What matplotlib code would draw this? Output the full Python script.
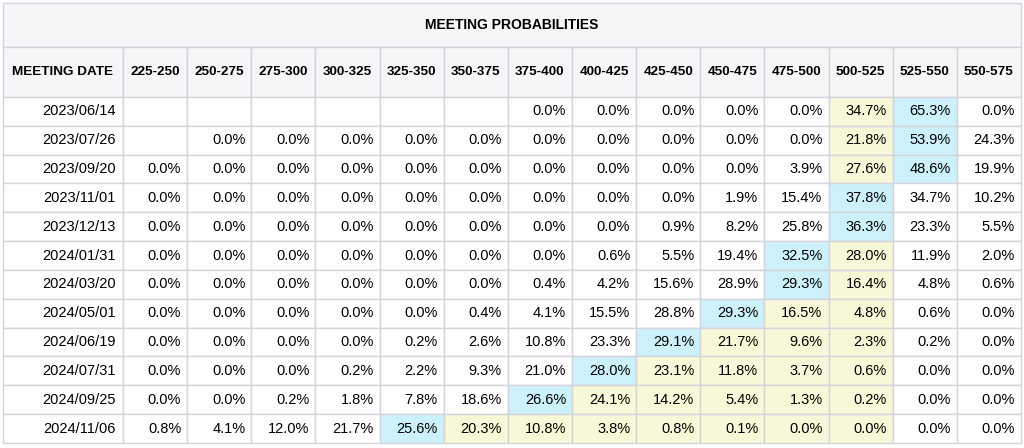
import matplotlib
matplotlib.use('Agg')
import matplotlib.pyplot as plt
from matplotlib.patches import Rectangle

plt.rcParams['font.family'] = ['Liberation Sans', 'DejaVu Sans']

title = 'MEETING PROBABILITIES'
ranges = ['225-250', '250-275', '275-300', '300-325', '325-350', '350-375', '375-400',
          '400-425', '425-450', '450-475', '475-500', '500-525', '525-550', '550-575']
dates = ['2023/06/14', '2023/07/26', '2023/09/20', '2023/11/01', '2023/12/13', '2024/01/31',
         '2024/03/20', '2024/05/01', '2024/06/19', '2024/07/31', '2024/09/25', '2024/11/06']
N = None
probs = [
    [N, N, N, N, N, N, 0.0, 0.0, 0.0, 0.0, 0.0, 34.7, 65.3, 0.0],
    [N, 0.0, 0.0, 0.0, 0.0, 0.0, 0.0, 0.0, 0.0, 0.0, 0.0, 21.8, 53.9, 24.3],
    [0.0, 0.0, 0.0, 0.0, 0.0, 0.0, 0.0, 0.0, 0.0, 0.0, 3.9, 27.6, 48.6, 19.9],
    [0.0, 0.0, 0.0, 0.0, 0.0, 0.0, 0.0, 0.0, 0.0, 1.9, 15.4, 37.8, 34.7, 10.2],
    [0.0, 0.0, 0.0, 0.0, 0.0, 0.0, 0.0, 0.0, 0.9, 8.2, 25.8, 36.3, 23.3, 5.5],
    [0.0, 0.0, 0.0, 0.0, 0.0, 0.0, 0.0, 0.6, 5.5, 19.4, 32.5, 28.0, 11.9, 2.0],
    [0.0, 0.0, 0.0, 0.0, 0.0, 0.0, 0.4, 4.2, 15.6, 28.9, 29.3, 16.4, 4.8, 0.6],
    [0.0, 0.0, 0.0, 0.0, 0.0, 0.4, 4.1, 15.5, 28.8, 29.3, 16.5, 4.8, 0.6, 0.0],
    [0.0, 0.0, 0.0, 0.0, 0.2, 2.6, 10.8, 23.3, 29.1, 21.7, 9.6, 2.3, 0.2, 0.0],
    [0.0, 0.0, 0.0, 0.2, 2.2, 9.3, 21.0, 28.0, 23.1, 11.8, 3.7, 0.6, 0.0, 0.0],
    [0.0, 0.0, 0.2, 1.8, 7.8, 18.6, 26.6, 24.1, 14.2, 5.4, 1.3, 0.2, 0.0, 0.0],
    [0.8, 4.1, 12.0, 21.7, 25.6, 20.3, 10.8, 3.8, 0.8, 0.1, 0.0, 0.0, 0.0, 0.0],
]
current = ranges.index('500-525')

fig = plt.figure(figsize=(10.24, 4.48), dpi=100)
ax = fig.add_axes([0, 0, 1, 1])
ax.set_xlim(0, 1024)
ax.set_ylim(448, 0)
ax.axis('off')

line = '#d4d4dc'
x0, x1 = 3, 1021
first_w = 120
col_w = (x1 - x0 - first_w) / len(ranges)
title_top, title_h, head_h = 3, 44, 50
row_h = (443 - title_top - title_h - head_h) / len(dates)

# title row
ax.add_patch(Rectangle((x0, title_top), x1 - x0, title_h, fc='#f6f6f8', ec=line, lw=1))
ax.text((x0 + x1) / 2, title_top + title_h / 2, title, ha='center', va='center',
        fontsize=10, fontweight='bold')

# header row
hy = title_top + title_h
ax.add_patch(Rectangle((x0, hy), first_w, head_h, fc='#f6f6f8', ec=line, lw=1))
ax.text(x0 + first_w / 2, hy + head_h / 2, 'MEETING DATE', ha='center', va='center',
        fontsize=9.7, fontweight='bold')
for j, r in enumerate(ranges):
    cx = x0 + first_w + j * col_w
    ax.add_patch(Rectangle((cx, hy), col_w, head_h, fc='#f6f6f8', ec=line, lw=1))
    ax.text(cx + col_w / 2, hy + head_h / 2, r, ha='center', va='center',
            fontsize=9.7, fontweight='bold')

# data rows
for i, d in enumerate(dates):
    ry = hy + head_h + i * row_h
    ax.add_patch(Rectangle((x0, ry), first_w, row_h, fc='white', ec=line, lw=1))
    ax.text(x0 + first_w - 7, ry + row_h / 2, d, ha='right', va='center', fontsize=10.5)
    vals = probs[i]
    best = max(range(len(vals)), key=lambda k: -1 if vals[k] is None else vals[k])
    lo, hi = min(best, current), max(best, current)
    for j, v in enumerate(vals):
        cx = x0 + first_w + j * col_w
        fc = 'white'
        if j == best:
            fc = '#cdf1fa'
        elif lo <= j <= hi:
            fc = '#f8f8d8'
        ax.add_patch(Rectangle((cx, ry), col_w, row_h, fc=fc, ec=line, lw=1))
        if v is not None:
            ax.text(cx + col_w - 6, ry + row_h / 2, f'{v:.1f}%', ha='right', va='center',
                    fontsize=10.5)

fig.savefig('out.png', dpi=100)
